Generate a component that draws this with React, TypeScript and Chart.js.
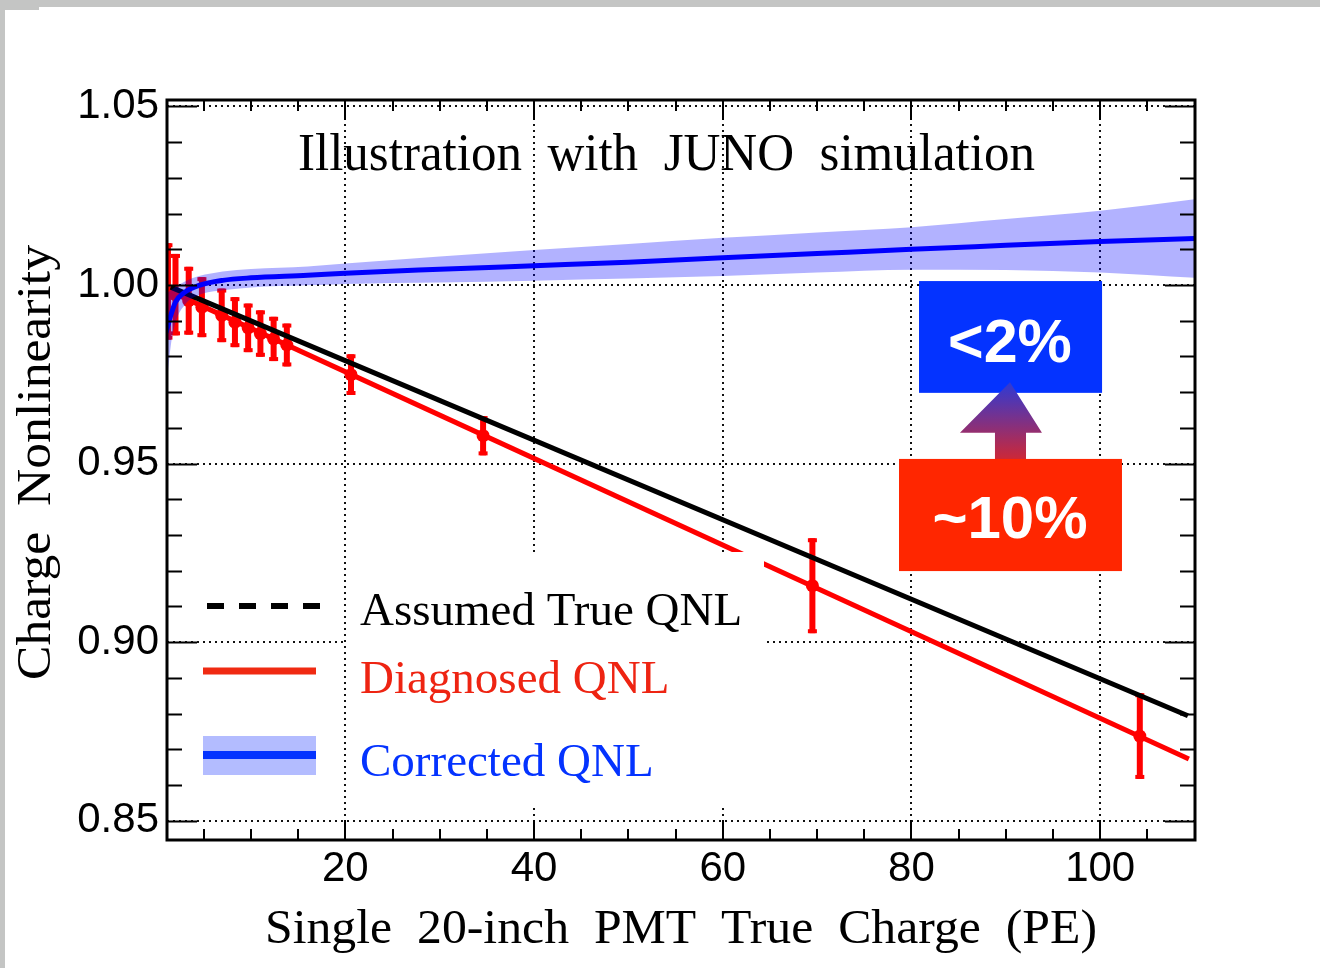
import React, { useEffect, useRef } from 'react';
import { Chart, registerables } from 'chart.js';

Chart.register(...registerables);

// ---- axis ranges and ticks ----
const X_MIN = 1.1;
const X_MAX = 110.05;
const Y_MIN = 0.8446;
const Y_MAX = 1.0518;
const xTickValues = [20, 40, 60, 80, 100];
const xTickLabels = ['20', '40', '60', '80', '100'];
const yTickValues = [0.85, 0.9, 0.95, 1.0, 1.05];
const yTickLabels = ['0.85', '0.90', '0.95', '1.00', '1.05'];

// ---- Assumed true QNL (black) ----
const trueX = [1.5, 109.3];
const trueY = [0.9994, 0.8794];

// ---- Diagnosed QNL fit (red line) ----
const diagFitX = [1.2, 109.4];
const diagFitY = [0.9985, 0.8673];

// ---- Diagnosed QNL points with errors ----
const diagPtX = [1.2, 2.0, 3.4, 4.8, 6.9, 8.3, 9.7, 11.0, 12.4, 13.8, 20.6, 34.6, 69.5, 104.2];
const diagPtY = [0.9982, 0.9973, 0.9956, 0.9938, 0.9915, 0.9896, 0.988, 0.9864, 0.9849, 0.9832, 0.9749, 0.9578, 0.9158, 0.8737];
const diagPtErr = [0.0135, 0.0114, 0.0095, 0.0084, 0.0075, 0.007, 0.0068, 0.0065, 0.0062, 0.006, 0.0057, 0.0055, 0.0133, 0.012];

// ---- Corrected QNL (blue) with band ----
const corrX = [1.0, 1.5, 2.0, 3.0, 4.5, 7, 10, 16, 20, 30, 40, 50, 60, 70, 80, 90, 100, 110];
const corrY = [0.9867, 0.9915, 0.9952, 0.998, 0.9999, 1.0013, 1.002, 1.0027, 1.0033, 1.0044, 1.0054, 1.0064, 1.0076, 1.0088, 1.01, 1.0111, 1.0122, 1.013];
const corrUp = [0.9975, 0.9985, 0.9995, 1.001, 1.0025, 1.0038, 1.0045, 1.0052, 1.006, 1.008, 1.0098, 1.0115, 1.0132, 1.0147, 1.0162, 1.0185, 1.0208, 1.024];
const corrLo = [0.97, 0.983, 0.9895, 0.9945, 0.9972, 0.9985, 0.9993, 0.9999, 1.0003, 1.0007, 1.0012, 1.0018, 1.0025, 1.0035, 1.0043, 1.0042, 1.0035, 1.002];

// ---- annotation (data coords): [xLeft, xRight, yBottom, yTop] ----
const blueBox = [80.8, 100.2, 0.9698, 1.0011];
const redBox = [78.68, 102.31, 0.9199, 0.9513];
// arrow: [headLeftX, headRightX, headBaseY, apexX, apexY, shaftLeftX, shaftRightX]
const arrowGeom = [85.14, 93.83, 0.9586, 90.44, 0.9728, 88.85, 92.14];
// label anchors: [centerX, baselineY]
const blueLabelPos = [90.44, 0.9784];
const redLabelPos = [90.44, 0.9292];

const TITLE = 'Illustration  with  JUNO  simulation';
const X_TITLE = 'Single  20-inch  PMT  True  Charge  (PE)';
const Y_TITLE = 'Charge  Nonlinearity';
const LEGEND = ['Assumed True QNL', 'Diagnosed QNL', 'Corrected QNL'];

const pts = (xs: number[], ys: number[]) => xs.map((x, i) => ({ x, y: ys[i] }));

const RED = '#ff0000';
const BLUE = '#0000ff';
const BAND = 'rgba(0,0,255,0.3)';
const SERIF = '"Liberation Serif", "Times New Roman", serif';
const SANS = '"Liberation Sans", Arial, Helvetica, sans-serif';

function fitText(ctx: CanvasRenderingContext2D, text: string, font: string, x: number, y: number, w: number, rot = 0) {
  ctx.save();
  ctx.font = font;
  const mw = ctx.measureText(text).width;
  ctx.translate(x, y);
  if (rot) ctx.rotate(rot);
  ctx.scale(w / mw, 1);
  ctx.textAlign = 'center';
  ctx.textBaseline = 'alphabetic';
  ctx.fillText(text, 0, 0);
  ctx.restore();
}

const POINTS_IDX = 5;

const customPlugin = {
  id: 'custom',
  beforeDraw(chart: any) {
    const ctx = chart.ctx;
    ctx.save();
    ctx.fillStyle = '#c4c5c4';
    ctx.fillRect(0, 0, chart.width, chart.height);
    ctx.fillStyle = '#ffffff';
    ctx.fillRect(5, 10, chart.width - 5, chart.height - 10);
    ctx.fillRect(39, 7, chart.width - 39, chart.height - 7);
    ctx.restore();
  },
  beforeDatasetsDraw(chart: any) {
    const ctx = chart.ctx;
    const { left, right, top, bottom } = chart.chartArea;
    const xs = chart.scales.x;
    const ys = chart.scales.y;
    ctx.save();
    ctx.strokeStyle = '#111';
    ctx.lineWidth = 2;
    ctx.setLineDash([2, 4]);
    xTickValues.forEach((v) => {
      const p = Math.round(xs.getPixelForValue(v));
      ctx.beginPath();
      ctx.moveTo(p, top);
      ctx.lineTo(p, bottom);
      ctx.stroke();
    });
    yTickValues.forEach((v) => {
      const p = Math.round(ys.getPixelForValue(v));
      ctx.beginPath();
      ctx.moveTo(left, p);
      ctx.lineTo(right, p);
      ctx.stroke();
    });
    ctx.restore();
  },
  beforeDatasetDraw(chart: any, args: any) {
    if (args.index !== POINTS_IDX) return;
    const ctx = chart.ctx;
    const xs = chart.scales.x;
    const ys = chart.scales.y;
    const { left, right, top, bottom } = chart.chartArea;
    ctx.save();
    ctx.beginPath();
    ctx.rect(left, top, right - left, bottom - top);
    ctx.clip();
    ctx.fillStyle = RED;
    diagPtX.forEach((x, i) => {
      const px = xs.getPixelForValue(x);
      const t = ys.getPixelForValue(diagPtY[i] + diagPtErr[i]);
      const b = ys.getPixelForValue(diagPtY[i] - diagPtErr[i]);
      ctx.fillRect(px - 3, t, 6, b - t);
      ctx.fillRect(px - 4.5, t, 9, 4);
      ctx.fillRect(px - 4.5, b - 4, 9, 4);
    });
    ctx.restore();
  },
  afterDatasetsDraw(chart: any) {
    const ctx = chart.ctx;
    const xs = chart.scales.x;
    const ys = chart.scales.y;
    const { left, right, top, bottom } = chart.chartArea;

    // legend
    ctx.save();
    ctx.fillStyle = '#ffffff';
    ctx.fillRect(347, 552, 417, 254);
    ctx.strokeStyle = '#000';
    ctx.lineWidth = 6;
    ctx.setLineDash([17, 15]);
    ctx.beginPath();
    ctx.moveTo(207, 606);
    ctx.lineTo(322, 606);
    ctx.stroke();
    ctx.setLineDash([]);
    ctx.strokeStyle = '#f02a12';
    ctx.lineWidth = 7;
    ctx.beginPath();
    ctx.moveTo(203, 671);
    ctx.lineTo(316, 671);
    ctx.stroke();
    ctx.fillStyle = '#b3bcff';
    ctx.fillRect(203, 736, 113, 39);
    ctx.fillStyle = '#0433ff';
    ctx.fillRect(203, 751, 113, 8);
    ctx.font = `47px ${SERIF}`;
    ctx.textAlign = 'left';
    ctx.textBaseline = 'alphabetic';
    ctx.fillStyle = '#000';
    ctx.fillText(LEGEND[0], 360, 625);
    ctx.fillStyle = '#ee2412';
    ctx.fillText(LEGEND[1], 360, 693);
    ctx.fillStyle = '#0433ff';
    ctx.fillText(LEGEND[2], 360, 776);
    ctx.restore();

    // annotation boxes
    ctx.save();
    const bx0 = xs.getPixelForValue(blueBox[0]);
    const bx1 = xs.getPixelForValue(blueBox[1]);
    const by0 = ys.getPixelForValue(blueBox[3]);
    const by1 = ys.getPixelForValue(blueBox[2]);
    ctx.fillStyle = '#0433ff';
    ctx.fillRect(bx0, by0, bx1 - bx0, by1 - by0);
    const rx0 = xs.getPixelForValue(redBox[0]);
    const rx1 = xs.getPixelForValue(redBox[1]);
    const ry0 = ys.getPixelForValue(redBox[3]);
    const ry1 = ys.getPixelForValue(redBox[2]);
    const hl = xs.getPixelForValue(arrowGeom[0]);
    const hr = xs.getPixelForValue(arrowGeom[1]);
    const hb = ys.getPixelForValue(arrowGeom[2]);
    const ax = xs.getPixelForValue(arrowGeom[3]);
    const ay = ys.getPixelForValue(arrowGeom[4]);
    const sl = xs.getPixelForValue(arrowGeom[5]);
    const sr = xs.getPixelForValue(arrowGeom[6]);
    const grad = ctx.createLinearGradient(0, ay, 0, ry0);
    grad.addColorStop(0, '#2d3ad6');
    grad.addColorStop(1, '#cc2838');
    ctx.fillStyle = grad;
    ctx.beginPath();
    ctx.moveTo(ax, ay);
    ctx.lineTo(hr, hb);
    ctx.lineTo(sr, hb);
    ctx.lineTo(sr, ry0);
    ctx.lineTo(sl, ry0);
    ctx.lineTo(sl, hb);
    ctx.lineTo(hl, hb);
    ctx.closePath();
    ctx.fill();
    ctx.fillStyle = '#ff2600';
    ctx.fillRect(rx0, ry0, rx1 - rx0, ry1 - ry0);
    ctx.fillStyle = '#ffffff';
    ctx.textAlign = 'center';
    ctx.textBaseline = 'alphabetic';
    ctx.font = `bold 61px ${SANS}`;
    ctx.fillText('<2%', xs.getPixelForValue(blueLabelPos[0]), ys.getPixelForValue(blueLabelPos[1]));
    ctx.font = `bold 60px ${SANS}`;
    ctx.fillText('~10%', xs.getPixelForValue(redLabelPos[0]), ys.getPixelForValue(redLabelPos[1]));
    ctx.restore();

    // ticks and frame
    ctx.save();
    ctx.strokeStyle = '#000';
    ctx.lineWidth = 2;
    ctx.beginPath();
    for (let v = 5; v <= 110; v += 5) {
      const p = Math.round(xs.getPixelForValue(v));
      const len = v % 20 === 0 ? 20 : 11;
      ctx.moveTo(p, bottom);
      ctx.lineTo(p, bottom - len);
      ctx.moveTo(p, top);
      ctx.lineTo(p, top + len);
    }
    for (let k = 85; k <= 105; k++) {
      const p = Math.round(ys.getPixelForValue(k / 100)) + 0.5;
      const len = k % 5 === 0 ? 30 : 15;
      ctx.moveTo(left, p);
      ctx.lineTo(left + len, p);
      ctx.moveTo(right, p);
      ctx.lineTo(right - len, p);
    }
    ctx.stroke();
    ctx.lineWidth = 3;
    ctx.strokeRect(left, top, right - left, bottom - top);
    ctx.restore();

    // titles
    ctx.save();
    ctx.fillStyle = '#000';
    fitText(ctx, TITLE, `52px ${SERIF}`, 666.5, 170, 737);
    fitText(ctx, X_TITLE, `48px ${SERIF}`, 681, 943, 832);
    fitText(ctx, Y_TITLE, `48px ${SERIF}`, 50, 462.5, 435, -Math.PI / 2);
    ctx.restore();
  },
};

export default function App() {
  const ref = useRef<HTMLCanvasElement | null>(null);
  useEffect(() => {
    const canvas = ref.current;
    if (!canvas) return;
    const chart = new Chart(canvas, {
      type: 'line',
      data: {
        datasets: [
          {
            label: 'Corrected QNL',
            data: pts(corrX, corrY),
            borderColor: BLUE,
            borderWidth: 5,
            pointRadius: 0,
            cubicInterpolationMode: 'monotone',
            fill: false,
          },
          {
            label: 'band up',
            data: pts(corrX, corrUp),
            borderWidth: 0,
            borderColor: 'rgba(0,0,0,0)',
            backgroundColor: BAND,
            pointRadius: 0,
            cubicInterpolationMode: 'monotone',
            fill: '+1',
          },
          {
            label: 'band low',
            data: pts(corrX, corrLo),
            borderWidth: 0,
            borderColor: 'rgba(0,0,0,0)',
            pointRadius: 0,
            cubicInterpolationMode: 'monotone',
            fill: false,
          },
          {
            label: 'Assumed True QNL',
            data: pts(trueX, trueY),
            borderColor: '#000',
            borderWidth: 5,
            pointRadius: 0,
            fill: false,
          },
          {
            label: 'Diagnosed fit',
            data: pts(diagFitX, diagFitY),
            borderColor: RED,
            borderWidth: 5,
            pointRadius: 0,
            fill: false,
          },
          {
            label: 'Diagnosed points',
            data: pts(diagPtX, diagPtY),
            showLine: false,
            pointRadius: 6.5,
            pointBackgroundColor: RED,
            pointBorderWidth: 0,
            borderColor: RED,
            fill: false,
          },
        ],
      },
      options: {
        animation: false,
        responsive: false,
        devicePixelRatio: 1,
        layout: { padding: { left: 0, right: 125, top: 100, bottom: 0 } },
        plugins: {
          legend: { display: false },
          tooltip: { enabled: false },
          title: { display: false },
        },
        scales: {
          x: {
            type: 'linear',
            min: X_MIN,
            max: X_MAX,
            grid: { display: false },
            border: { display: false },
            afterBuildTicks: (s: any) => {
              s.ticks = xTickValues.map((v) => ({ value: v }));
            },
            afterFit: (s: any) => {
              s.height = 128;
            },
            ticks: {
              autoSkip: false,
              maxRotation: 0,
              padding: -4,
              color: '#000',
              font: { family: SANS, size: 42 },
              callback: (_v: any, i: number) => xTickLabels[i],
            },
          },
          y: {
            type: 'linear',
            min: Y_MIN,
            max: Y_MAX,
            grid: { display: false },
            border: { display: false },
            afterBuildTicks: (s: any) => {
              s.ticks = yTickValues.map((v) => ({ value: v }));
            },
            afterFit: (s: any) => {
              s.width = 167;
            },
            ticks: {
              autoSkip: false,
              padding: 0,
              color: '#000',
              font: { family: SANS, size: 42 },
              callback: (_v: any, i: number) => yTickLabels[i],
            },
          },
        },
      },
      plugins: [customPlugin],
    } as any);
    return () => chart.destroy();
  }, []);
  return (
    <div style={{ position: 'fixed', left: 0, top: 0, width: 1320, height: 968 }}>
      <canvas ref={ref} width={1320} height={968} style={{ display: 'block', width: 1320, height: 968 }} />
    </div>
  );
}
